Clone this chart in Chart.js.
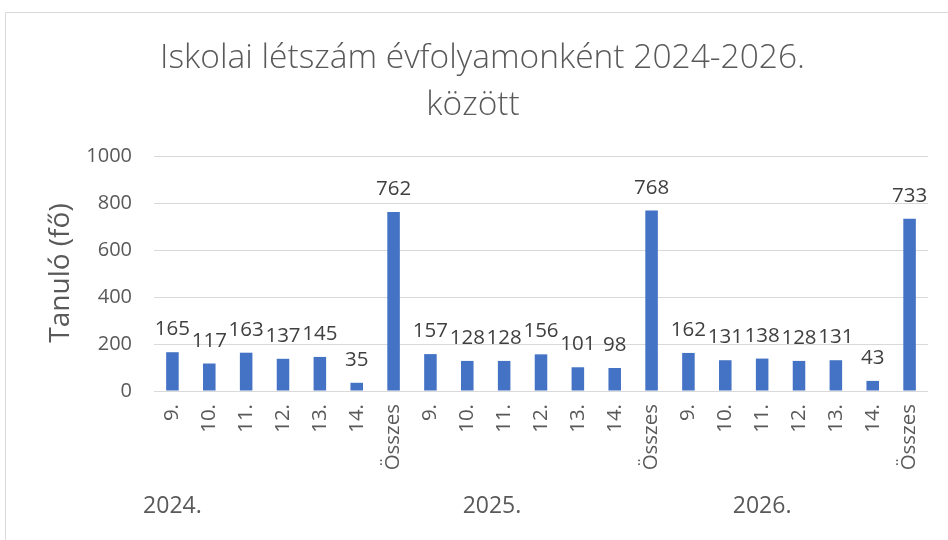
<!DOCTYPE html>
<html>
<head>
<meta charset="utf-8">
<script src="https://cdn.jsdelivr.net/npm/chart.js@4"></script>
<style>
html,body{margin:0;padding:0;background:#fff;}
#wrap{width:948px;height:540px;position:relative;}
</style>
</head>
<body>
<div id="wrap"><canvas id="c" width="948" height="540"></canvas></div>
<script>
const categories = ["9.","10.","11.","12.","13.","14.","Összes","9.","10.","11.","12.","13.","14.","Összes","9.","10.","11.","12.","13.","14.","Összes"];
const values2024 = [165,117,163,137,145,35,762];
const values2025 = [157,128,128,156,101,98,768];
const values2026 = [162,131,138,128,131,43,733];
const groupLabels = ["2024.","2025.","2026."];
const groupPositions = [0, 8.67, 16];
const yTicks = [0,200,400,600,800,1000];
const titleLines = ["Iskolai létszám évfolyamonként 2024-2026.","között"];
const yTitle = "Tanuló (fő)";

const values = values2024.concat(values2025, values2026);
const FONT = "'Open Sans', sans-serif";

const deco = {
  id: 'deco',
  beforeDraw(chart) {
    const ctx = chart.ctx;
    ctx.save();
    ctx.fillStyle = '#fff';
    ctx.fillRect(0,0,chart.width,chart.height);
    ctx.strokeStyle = '#D9D9D9';
    ctx.lineWidth = 1;
    ctx.beginPath();
    ctx.moveTo(5.5, 540); ctx.lineTo(5.5, 12.5); ctx.lineTo(948, 12.5);
    ctx.stroke();
    ctx.restore();
  },
  afterDraw(chart) {
    const ctx = chart.ctx;
    ctx.save();
    ctx.fillStyle = '#595959';
    ctx.textAlign = 'center';
    ctx.textBaseline = 'alphabetic';
    ctx.font = "300 33.5px " + FONT;
    ctx.fillText(titleLines[0], 482.5, 68);
    ctx.fillText(titleLines[1], 473, 115);
    // y title
    ctx.font = "28px " + FONT;
    ctx.save();
    ctx.translate(61, 273);
    ctx.rotate(-Math.PI/2);
    ctx.textBaseline = 'middle';
    ctx.fillText(yTitle, 0, 0);
    ctx.restore();
    // group labels
    const xs = chart.scales.x;
    ctx.font = "23px " + FONT;
    ctx.textBaseline = 'middle';
    groupLabels.forEach((g,i) => {
      ctx.fillText(g, xs.getPixelForValue(groupPositions[i]), 506);
    });
    // data labels
    ctx.fillStyle = '#404040';
    ctx.font = "20.5px " + FONT;
    ctx.textBaseline = 'alphabetic';
    const meta = chart.getDatasetMeta(0);
    meta.data.forEach((bar, i) => {
      ctx.fillText(String(values[i]), bar.x, bar.y - 17);
    });
    ctx.restore();
  }
};

new Chart(document.getElementById('c'), {
  type: 'bar',
  data: {
    labels: categories,
    datasets: [{
      data: values,
      backgroundColor: '#4472C4',
      barPercentage: 0.34,
      categoryPercentage: 1.0
    }]
  },
  options: {
    responsive: false,
    animation: false,
    layout: { padding: { top: 156, right: 20, left: 0, bottom: 0 } },
    plugins: { legend: { display: false }, title: { display: false }, tooltip: { enabled: false } },
    scales: {
      x: {
        grid: { display: false, drawTicks: false },
        border: { display: false },
        ticks: { color: '#595959', font: { family: FONT, size: 20.5 }, minRotation: 90, maxRotation: 90, padding: 13, autoSkip: false },
        afterFit(s) { s.height = 149; }
      },
      y: {
        min: 0, max: 1000,
        afterBuildTicks(s) { s.ticks = yTicks.map(v => ({ value: v })); },
        grid: { color: '#D9D9D9', lineWidth: 1, drawTicks: false },
        border: { display: false },
        ticks: { color: '#595959', font: { family: FONT, size: 20 }, padding: 22, callback: (v) => String(v) },
        afterFit(s) { s.width = 154; }
      }
    }
  },
  plugins: [deco]
});
</script>
</body>
</html>
